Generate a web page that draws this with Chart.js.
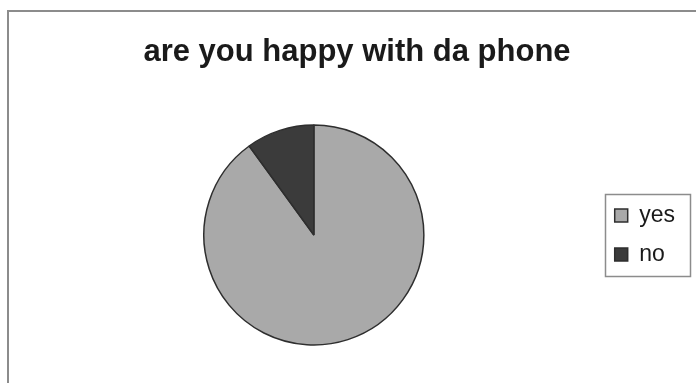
<!DOCTYPE html>
<html>
<head>
<meta charset="utf-8">
<script src="https://cdn.jsdelivr.net/npm/chart.js@4/dist/chart.umd.min.js"></script>
<style>
  html, body { margin: 0; padding: 0; background: #ffffff; }
  canvas { display: block; }
</style>
</head>
<body>
<canvas id="c" width="696" height="383"></canvas>
<script>
const chartTitle = "are you happy with da phone";
const categories = ["yes", "no"];
const values = [90, 10];
const sliceColors = ["#a9a9a9", "#3b3b3b"];

const framePlugin = {
  id: "frames",
  beforeDraw(chart) {
    const ctx = chart.ctx;
    ctx.save();
    ctx.fillStyle = "#ffffff";
    ctx.fillRect(0, 0, chart.width, chart.height);
    ctx.strokeStyle = "#8c8c8c";
    ctx.lineWidth = 2;
    ctx.beginPath();
    ctx.moveTo(8, chart.height);
    ctx.lineTo(8, 11);
    ctx.lineTo(chart.width, 11);
    ctx.stroke();
    ctx.restore();
  },
  afterDraw(chart) {
    const lg = chart.legend;
    if (!lg || !lg.legendHitBoxes || !lg.legendHitBoxes.length) return;
    const hb = lg.legendHitBoxes;
    let l = Infinity, r = -Infinity, t = Infinity, b = -Infinity;
    hb.forEach(h => {
      l = Math.min(l, h.left); r = Math.max(r, h.left + h.width);
      t = Math.min(t, h.top); b = Math.max(b, h.top + h.height);
    });
    const ctx = chart.ctx;
    ctx.save();
    ctx.strokeStyle = "#8c8c8c";
    ctx.lineWidth = 1.5;
    ctx.strokeRect(Math.round(l - 10) + 0.5, Math.round(t - 10) + 0.5, Math.round(r - l + 25), Math.round(b - t + 20));
    ctx.restore();
  }
};

new Chart(document.getElementById("c"), {
  type: "pie",
  data: {
    labels: categories,
    datasets: [{
      data: values,
      backgroundColor: sliceColors,
      borderColor: "#2e2e2e",
      borderWidth: 1.5
    }]
  },
  options: {
    responsive: false,
    animation: false,
    radius: 110,
    layout: { padding: { left: 29, right: 11, top: 0, bottom: 38 } },
    plugins: {
      title: {
        display: true,
        text: chartTitle,
        color: "#1a1a1a",
        font: { family: "'Liberation Sans', Arial, sans-serif", size: 31, weight: "bold" },
        padding: { top: 33.4, bottom: 54.4 }
      },
      legend: {
        display: true,
        position: "right",
        fullSize: false,
        align: "center",
        labels: {
          color: "#1a1a1a",
          font: { family: "'Liberation Sans', Arial, sans-serif", size: 23 },
          boxWidth: 13,
          boxHeight: 13,
          padding: 16
        }
      },
      tooltip: { enabled: false }
    }
  },
  plugins: [framePlugin]
});
</script>
</body>
</html>
